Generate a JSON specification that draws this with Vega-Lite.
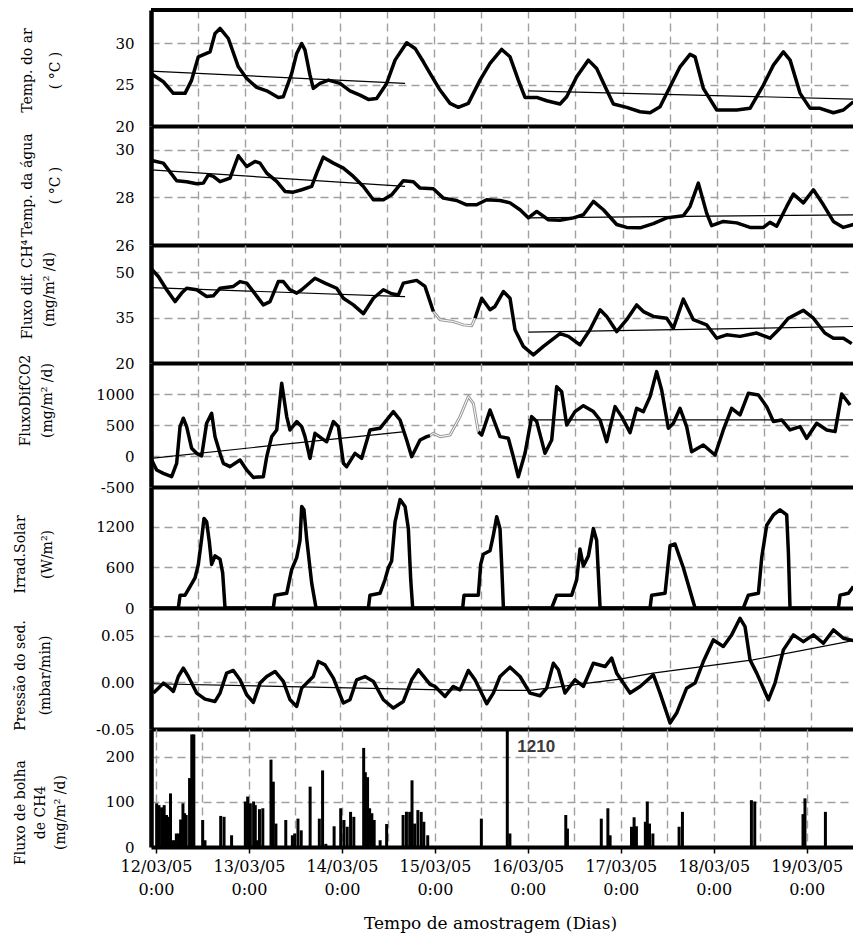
{
"$schema": "https://vega.github.io/schema/vega-lite/v6.json",
"background": "white",
"padding": {"left": 13, "top": 8, "right": 0, "bottom": 5},
"spacing": 0,
"bounds": "flush",
"config": {
 "view": {"stroke": null},
 "line": {"strokeJoin": "round"},
 "axis": {"domainColor": "black", "gridColor": "#a0a0a0", "gridDash": [8, 5], "gridWidth": 1.4, "labelFont": "DejaVu Serif", "labelFontSize": 15, "labelColor": "black", "titleFont": "DejaVu Serif", "titleFontSize": 14, "titleFontWeight": "normal", "titleColor": "black", "ticks": false, "labelOverlap": false, "labelFlush": false},
 "axisX": {"domainWidth": 4},
 "axisY": {"domainWidth": 4.5, "titleAngle": -90, "titleAlign": "center", "titleBaseline": "top", "labelPadding": 17, "grid": true}
},
"datasets": {
 "ar": [{"dia":0.007,"valor":26.27},{"dia":0.131,"valor":25.34},{"dia":0.237,"valor":23.94},{"dia":0.361,"valor":23.94},{"dia":0.431,"valor":25.54},{"dia":0.502,"valor":28.35},{"dia":0.626,"valor":28.95},{"dia":0.679,"valor":31.17},{"dia":0.732,"valor":31.77},{"dia":0.82,"valor":30.56},{"dia":0.926,"valor":27.14},{"dia":1.015,"valor":25.74},{"dia":1.121,"valor":24.66},{"dia":1.227,"valor":24.25},{"dia":1.35,"valor":23.45},{"dia":1.403,"valor":23.53},{"dia":1.492,"valor":26.35},{"dia":1.545,"valor":28.76},{"dia":1.598,"valor":29.96},{"dia":1.633,"valor":29.16},{"dia":1.686,"valor":26.14},{"dia":1.721,"valor":24.54},{"dia":1.792,"valor":25.14},{"dia":1.881,"valor":25.54},{"dia":2.004,"valor":25.14},{"dia":2.11,"valor":24.25},{"dia":2.216,"valor":23.73},{"dia":2.305,"valor":23.21},{"dia":2.393,"valor":23.33},{"dia":2.499,"valor":25.14},{"dia":2.588,"valor":27.95},{"dia":2.711,"valor":30.04},{"dia":2.8,"valor":29.36},{"dia":2.888,"valor":27.75},{"dia":2.959,"valor":26.35},{"dia":3.065,"valor":24.34},{"dia":3.171,"valor":22.73},{"dia":3.259,"valor":22.25},{"dia":3.365,"valor":22.73},{"dia":3.489,"valor":25.54},{"dia":3.595,"valor":27.55},{"dia":3.719,"valor":29.24},{"dia":3.807,"valor":28.35},{"dia":3.895,"valor":25.54},{"dia":3.966,"valor":23.45},{"dia":4.09,"valor":23.45},{"dia":4.196,"valor":23.05},{"dia":4.337,"valor":22.65},{"dia":4.408,"valor":23.53},{"dia":4.514,"valor":25.94},{"dia":4.638,"valor":27.95},{"dia":4.726,"valor":26.95},{"dia":4.832,"valor":24.34},{"dia":4.903,"valor":22.65},{"dia":5.044,"valor":22.25},{"dia":5.186,"valor":21.72},{"dia":5.292,"valor":21.6},{"dia":5.398,"valor":22.33},{"dia":5.504,"valor":24.73},{"dia":5.61,"valor":27.14},{"dia":5.716,"valor":28.64},{"dia":5.769,"valor":28.35},{"dia":5.857,"valor":24.54},{"dia":5.999,"valor":21.93},{"dia":6.211,"valor":21.93},{"dia":6.352,"valor":22.13},{"dia":6.494,"valor":24.94},{"dia":6.6,"valor":27.35},{"dia":6.706,"valor":28.95},{"dia":6.777,"valor":27.95},{"dia":6.883,"valor":23.94},{"dia":6.989,"valor":22.13},{"dia":7.095,"valor":22.13},{"dia":7.236,"valor":21.6},{"dia":7.342,"valor":21.93},{"dia":7.448,"valor":22.93}],
 "ar_tend": [{"dia":0,"valor":26.63,"seg":"a"},{"dia":2.694,"valor":25.14,"seg":"a"},{"dia":4.0,"valor":24.25,"seg":"b"},{"dia":7.448,"valor":23.25,"seg":"b"}],
 "agua": [{"dia":0.007,"valor":29.55},{"dia":0.131,"valor":29.44},{"dia":0.272,"valor":28.7},{"dia":0.378,"valor":28.66},{"dia":0.484,"valor":28.57},{"dia":0.555,"valor":28.6},{"dia":0.608,"valor":28.95},{"dia":0.661,"valor":28.88},{"dia":0.732,"valor":28.66},{"dia":0.838,"valor":28.81},{"dia":0.926,"valor":29.75},{"dia":1.015,"valor":29.3},{"dia":1.103,"valor":29.51},{"dia":1.156,"valor":29.44},{"dia":1.227,"valor":29.02},{"dia":1.333,"valor":28.67},{"dia":1.421,"valor":28.25},{"dia":1.509,"valor":28.22},{"dia":1.598,"valor":28.32},{"dia":1.704,"valor":28.46},{"dia":1.757,"valor":29.02},{"dia":1.827,"valor":29.69},{"dia":1.934,"valor":29.44},{"dia":2.04,"valor":29.23},{"dia":2.146,"valor":28.88},{"dia":2.252,"valor":28.46},{"dia":2.358,"valor":27.9},{"dia":2.464,"valor":27.9},{"dia":2.552,"valor":28.11},{"dia":2.676,"valor":28.7},{"dia":2.782,"valor":28.66},{"dia":2.853,"valor":28.39},{"dia":2.994,"valor":28.36},{"dia":3.1,"valor":27.97},{"dia":3.241,"valor":27.87},{"dia":3.347,"valor":27.69},{"dia":3.453,"valor":27.69},{"dia":3.56,"valor":27.9},{"dia":3.701,"valor":27.87},{"dia":3.807,"valor":27.77},{"dia":3.913,"valor":27.48},{"dia":4.001,"valor":27.14},{"dia":4.09,"valor":27.41},{"dia":4.214,"valor":27.06},{"dia":4.337,"valor":27.04},{"dia":4.479,"valor":27.14},{"dia":4.585,"valor":27.27},{"dia":4.691,"valor":27.83},{"dia":4.797,"valor":27.48},{"dia":4.938,"valor":26.86},{"dia":5.044,"valor":26.74},{"dia":5.186,"valor":26.72},{"dia":5.327,"valor":26.9},{"dia":5.468,"valor":27.14},{"dia":5.645,"valor":27.23},{"dia":5.716,"valor":27.62},{"dia":5.804,"valor":28.6},{"dia":5.892,"valor":27.34},{"dia":5.945,"valor":26.81},{"dia":6.069,"valor":26.99},{"dia":6.211,"valor":26.93},{"dia":6.352,"valor":26.74},{"dia":6.494,"valor":26.74},{"dia":6.564,"valor":26.95},{"dia":6.635,"valor":26.79},{"dia":6.741,"valor":27.62},{"dia":6.812,"valor":28.14},{"dia":6.918,"valor":27.77},{"dia":7.024,"valor":28.32},{"dia":7.13,"valor":27.69},{"dia":7.236,"valor":26.99},{"dia":7.342,"valor":26.74},{"dia":7.448,"valor":26.86}],
 "agua_tend": [{"dia":0,"valor":29.16,"seg":"a"},{"dia":2.694,"valor":28.46,"seg":"a"},{"dia":4.0,"valor":27.14,"seg":"b"},{"dia":7.448,"valor":27.27,"seg":"b"}],
 "ch4": [{"dia":0.007,"valor":51,"seg":"a"},{"dia":0.078,"valor":48.6,"seg":"a"},{"dia":0.166,"valor":44.2,"seg":"a"},{"dia":0.255,"valor":40.3,"seg":"a"},{"dia":0.325,"valor":43.1,"seg":"a"},{"dia":0.378,"valor":44.7,"seg":"a"},{"dia":0.484,"valor":44.2,"seg":"a"},{"dia":0.59,"valor":42,"seg":"a"},{"dia":0.661,"valor":42.2,"seg":"a"},{"dia":0.732,"valor":44.7,"seg":"a"},{"dia":0.873,"valor":45.3,"seg":"a"},{"dia":0.944,"valor":46.9,"seg":"a"},{"dia":1.015,"valor":46.4,"seg":"a"},{"dia":1.085,"valor":43.6,"seg":"a"},{"dia":1.191,"valor":39.2,"seg":"a"},{"dia":1.262,"valor":40.3,"seg":"a"},{"dia":1.35,"valor":46.9,"seg":"a"},{"dia":1.403,"valor":46.9,"seg":"a"},{"dia":1.474,"valor":44.2,"seg":"a"},{"dia":1.545,"valor":43.1,"seg":"a"},{"dia":1.598,"valor":44.2,"seg":"a"},{"dia":1.739,"valor":48,"seg":"a"},{"dia":1.845,"valor":46.4,"seg":"a"},{"dia":1.969,"valor":44.7,"seg":"a"},{"dia":2.04,"valor":41.4,"seg":"a"},{"dia":2.146,"valor":39.2,"seg":"a"},{"dia":2.252,"valor":36.3,"seg":"a"},{"dia":2.358,"valor":41.4,"seg":"a"},{"dia":2.464,"valor":44.2,"seg":"a"},{"dia":2.552,"valor":42.9,"seg":"a"},{"dia":2.623,"valor":42.5,"seg":"a"},{"dia":2.676,"valor":46.4,"seg":"a"},{"dia":2.817,"valor":47.3,"seg":"a"},{"dia":2.906,"valor":45.3,"seg":"a"},{"dia":2.924,"valor":43.6,"seg":"a"},{"dia":2.994,"valor":37,"seg":"a"},{"dia":3.436,"valor":34.8,"seg":"b"},{"dia":3.507,"valor":41.4,"seg":"b"},{"dia":3.595,"valor":37.6,"seg":"b"},{"dia":3.648,"valor":38.7,"seg":"b"},{"dia":3.737,"valor":43.6,"seg":"b"},{"dia":3.807,"valor":41.4,"seg":"b"},{"dia":3.86,"valor":31,"seg":"b"},{"dia":3.948,"valor":25.5,"seg":"b"},{"dia":4.055,"valor":22.7,"seg":"b"},{"dia":4.161,"valor":25.5,"seg":"b"},{"dia":4.337,"valor":29.7,"seg":"b"},{"dia":4.426,"valor":28.8,"seg":"b"},{"dia":4.549,"valor":26,"seg":"b"},{"dia":4.655,"valor":31,"seg":"b"},{"dia":4.762,"valor":37.6,"seg":"b"},{"dia":4.832,"valor":35.4,"seg":"b"},{"dia":4.938,"valor":30.4,"seg":"b"},{"dia":5.044,"valor":34.3,"seg":"b"},{"dia":5.15,"valor":39.2,"seg":"b"},{"dia":5.221,"valor":37,"seg":"b"},{"dia":5.327,"valor":35.4,"seg":"b"},{"dia":5.468,"valor":34.8,"seg":"b"},{"dia":5.539,"valor":31.5,"seg":"b"},{"dia":5.645,"valor":41.1,"seg":"b"},{"dia":5.751,"valor":34.3,"seg":"b"},{"dia":5.892,"valor":32.6,"seg":"b"},{"dia":5.999,"valor":28.2,"seg":"b"},{"dia":6.104,"valor":29.3,"seg":"b"},{"dia":6.246,"valor":28.8,"seg":"b"},{"dia":6.423,"valor":29.9,"seg":"b"},{"dia":6.564,"valor":28.2,"seg":"b"},{"dia":6.67,"valor":31.5,"seg":"b"},{"dia":6.759,"valor":34.8,"seg":"b"},{"dia":6.918,"valor":37.4,"seg":"b"},{"dia":7.024,"valor":34.8,"seg":"b"},{"dia":7.145,"valor":29.9,"seg":"b"},{"dia":7.236,"valor":28.2,"seg":"b"},{"dia":7.342,"valor":28.2,"seg":"b"},{"dia":7.431,"valor":26.4,"seg":"b"}],
 "ch4_falha": [{"dia":2.994,"valor":37},{"dia":3.065,"valor":34.3},{"dia":3.206,"valor":33.7},{"dia":3.312,"valor":32.6},{"dia":3.4,"valor":32.3},{"dia":3.436,"valor":34.8}],
 "ch4_tend": [{"dia":0,"valor":44.92,"seg":"a"},{"dia":2.694,"valor":41.95,"seg":"a"},{"dia":4.0,"valor":30.2,"seg":"b"},{"dia":7.448,"valor":32.06,"seg":"b"}],
 "co2": [{"dia":0.007,"valor":-65,"seg":"a"},{"dia":0.06,"valor":-226,"seg":"a"},{"dia":0.131,"valor":-280,"seg":"a"},{"dia":0.219,"valor":-334,"seg":"a"},{"dia":0.272,"valor":-118,"seg":"a"},{"dia":0.308,"valor":474,"seg":"a"},{"dia":0.343,"valor":609,"seg":"a"},{"dia":0.378,"valor":474,"seg":"a"},{"dia":0.431,"valor":124,"seg":"a"},{"dia":0.484,"valor":43,"seg":"a"},{"dia":0.537,"valor":0,"seg":"a"},{"dia":0.59,"valor":528,"seg":"a"},{"dia":0.643,"valor":690,"seg":"a"},{"dia":0.679,"valor":312,"seg":"a"},{"dia":0.732,"valor":43,"seg":"a"},{"dia":0.767,"valor":-118,"seg":"a"},{"dia":0.838,"valor":-172,"seg":"a"},{"dia":0.944,"valor":-65,"seg":"a"},{"dia":1.015,"valor":-226,"seg":"a"},{"dia":1.085,"valor":-345,"seg":"a"},{"dia":1.191,"valor":-334,"seg":"a"},{"dia":1.227,"valor":-11,"seg":"a"},{"dia":1.28,"valor":312,"seg":"a"},{"dia":1.333,"valor":420,"seg":"a"},{"dia":1.386,"valor":1175,"seg":"a"},{"dia":1.439,"valor":636,"seg":"a"},{"dia":1.474,"valor":420,"seg":"a"},{"dia":1.545,"valor":555,"seg":"a"},{"dia":1.598,"valor":474,"seg":"a"},{"dia":1.633,"valor":312,"seg":"a"},{"dia":1.686,"valor":-38,"seg":"a"},{"dia":1.739,"valor":366,"seg":"a"},{"dia":1.81,"valor":285,"seg":"a"},{"dia":1.863,"valor":231,"seg":"a"},{"dia":1.934,"valor":555,"seg":"a"},{"dia":1.987,"valor":474,"seg":"a"},{"dia":2.04,"valor":-118,"seg":"a"},{"dia":2.075,"valor":-172,"seg":"a"},{"dia":2.163,"valor":43,"seg":"a"},{"dia":2.234,"valor":-38,"seg":"a"},{"dia":2.322,"valor":420,"seg":"a"},{"dia":2.428,"valor":447,"seg":"a"},{"dia":2.57,"valor":716,"seg":"a"},{"dia":2.641,"valor":581,"seg":"a"},{"dia":2.711,"valor":258,"seg":"a"},{"dia":2.764,"valor":-11,"seg":"a"},{"dia":2.853,"valor":258,"seg":"a"},{"dia":2.924,"valor":312,"seg":"a"},{"dia":2.959,"valor":330,"seg":"a"},{"dia":3.471,"valor":393,"seg":"b"},{"dia":3.507,"valor":339,"seg":"b"},{"dia":3.595,"valor":742,"seg":"b"},{"dia":3.701,"valor":312,"seg":"b"},{"dia":3.789,"valor":285,"seg":"b"},{"dia":3.842,"valor":-11,"seg":"b"},{"dia":3.895,"valor":-334,"seg":"b"},{"dia":3.966,"valor":43,"seg":"b"},{"dia":4.037,"valor":635,"seg":"b"},{"dia":4.09,"valor":555,"seg":"b"},{"dia":4.178,"valor":43,"seg":"b"},{"dia":4.249,"valor":258,"seg":"b"},{"dia":4.302,"valor":1119,"seg":"b"},{"dia":4.355,"valor":1038,"seg":"b"},{"dia":4.408,"valor":500,"seg":"b"},{"dia":4.496,"valor":716,"seg":"b"},{"dia":4.585,"valor":812,"seg":"b"},{"dia":4.691,"valor":716,"seg":"b"},{"dia":4.762,"valor":581,"seg":"b"},{"dia":4.832,"valor":231,"seg":"b"},{"dia":4.921,"valor":796,"seg":"b"},{"dia":4.991,"valor":635,"seg":"b"},{"dia":5.08,"valor":377,"seg":"b"},{"dia":5.15,"valor":769,"seg":"b"},{"dia":5.221,"valor":716,"seg":"b"},{"dia":5.292,"valor":958,"seg":"b"},{"dia":5.362,"valor":1361,"seg":"b"},{"dia":5.415,"valor":1065,"seg":"b"},{"dia":5.486,"valor":447,"seg":"b"},{"dia":5.539,"valor":528,"seg":"b"},{"dia":5.61,"valor":769,"seg":"b"},{"dia":5.68,"valor":474,"seg":"b"},{"dia":5.733,"valor":70,"seg":"b"},{"dia":5.857,"valor":177,"seg":"b"},{"dia":5.981,"valor":16,"seg":"b"},{"dia":6.069,"valor":420,"seg":"b"},{"dia":6.157,"valor":769,"seg":"b"},{"dia":6.246,"valor":662,"seg":"b"},{"dia":6.334,"valor":1011,"seg":"b"},{"dia":6.441,"valor":985,"seg":"b"},{"dia":6.529,"valor":796,"seg":"b"},{"dia":6.6,"valor":555,"seg":"b"},{"dia":6.688,"valor":581,"seg":"b"},{"dia":6.776,"valor":420,"seg":"b"},{"dia":6.883,"valor":474,"seg":"b"},{"dia":6.953,"valor":285,"seg":"b"},{"dia":7.059,"valor":528,"seg":"b"},{"dia":7.166,"valor":420,"seg":"b"},{"dia":7.254,"valor":393,"seg":"b"},{"dia":7.324,"valor":1000,"seg":"b"},{"dia":7.413,"valor":823,"seg":"b"}],
 "co2_falha": [{"dia":2.959,"valor":330},{"dia":2.994,"valor":366},{"dia":3.065,"valor":312},{"dia":3.171,"valor":339},{"dia":3.277,"valor":635},{"dia":3.365,"valor":958},{"dia":3.418,"valor":850},{"dia":3.471,"valor":393}],
 "co2_tend": [{"dia":0,"valor":-37,"seg":"a"},{"dia":2.694,"valor":394,"seg":"a"},{"dia":4.0,"valor":583,"seg":"b"},{"dia":7.448,"valor":583,"seg":"b"}],
 "irrad": [{"dia":0,"valor":0},{"dia":0.29,"valor":0},{"dia":0.308,"valor":190},{"dia":0.361,"valor":190},{"dia":0.414,"valor":318},{"dia":0.467,"valor":444},{"dia":0.502,"valor":645},{"dia":0.537,"valor":1023},{"dia":0.562,"valor":1325},{"dia":0.59,"valor":1275},{"dia":0.619,"valor":973},{"dia":0.643,"valor":645},{"dia":0.679,"valor":771},{"dia":0.732,"valor":721},{"dia":0.76,"valor":519},{"dia":0.785,"valor":0},{"dia":1.297,"valor":0},{"dia":1.315,"valor":190},{"dia":1.439,"valor":217},{"dia":1.492,"valor":570},{"dia":1.545,"valor":746},{"dia":1.58,"valor":998},{"dia":1.598,"valor":1502},{"dia":1.622,"valor":1452},{"dia":1.651,"valor":1023},{"dia":1.704,"valor":368},{"dia":1.75,"valor":0},{"dia":2.305,"valor":0},{"dia":2.322,"valor":190},{"dia":2.428,"valor":217},{"dia":2.481,"valor":418},{"dia":2.517,"valor":595},{"dia":2.552,"valor":696},{"dia":2.588,"valor":1275},{"dia":2.641,"valor":1603},{"dia":2.694,"valor":1502},{"dia":2.729,"valor":1174},{"dia":2.754,"valor":418},{"dia":2.775,"valor":0},{"dia":3.305,"valor":0},{"dia":3.319,"valor":190},{"dia":3.471,"valor":190},{"dia":3.496,"valor":645},{"dia":3.524,"valor":796},{"dia":3.595,"valor":847},{"dia":3.63,"valor":1073},{"dia":3.666,"valor":1351},{"dia":3.701,"valor":1174},{"dia":3.719,"valor":620},{"dia":3.737,"valor":0},{"dia":4.249,"valor":0},{"dia":4.302,"valor":190},{"dia":4.461,"valor":190},{"dia":4.514,"valor":418},{"dia":4.549,"valor":872},{"dia":4.585,"valor":620},{"dia":4.638,"valor":771},{"dia":4.691,"valor":1174},{"dia":4.726,"valor":998},{"dia":4.762,"valor":0},{"dia":5.292,"valor":0},{"dia":5.309,"valor":190},{"dia":5.451,"valor":217},{"dia":5.504,"valor":922},{"dia":5.557,"valor":947},{"dia":5.645,"valor":595},{"dia":5.769,"valor":0},{"dia":6.281,"valor":0},{"dia":6.334,"valor":190},{"dia":6.441,"valor":217},{"dia":6.476,"valor":746},{"dia":6.529,"valor":1225},{"dia":6.6,"valor":1376},{"dia":6.67,"valor":1452},{"dia":6.741,"valor":1376},{"dia":6.759,"valor":821},{"dia":6.776,"valor":0},{"dia":7.289,"valor":0},{"dia":7.307,"valor":190},{"dia":7.395,"valor":217},{"dia":7.448,"valor":318}],
 "pressao": [{"dia":0.025,"valor":-0.0114},{"dia":0.078,"valor":-0.0061},{"dia":0.131,"valor":-0.0007},{"dia":0.201,"valor":-0.0061},{"dia":0.237,"valor":-0.0096},{"dia":0.29,"valor":0.0064},{"dia":0.343,"valor":0.0154},{"dia":0.396,"valor":0.0064},{"dia":0.484,"valor":-0.0114},{"dia":0.573,"valor":-0.0179},{"dia":0.679,"valor":-0.0204},{"dia":0.732,"valor":-0.0114},{"dia":0.802,"valor":0.01},{"dia":0.873,"valor":0.0129},{"dia":0.944,"valor":0.0029},{"dia":1.015,"valor":-0.0132},{"dia":1.085,"valor":-0.0214},{"dia":1.156,"valor":-0.0007},{"dia":1.227,"valor":0.0064},{"dia":1.315,"valor":0.0118},{"dia":1.403,"valor":0.0011},{"dia":1.474,"valor":-0.0186},{"dia":1.545,"valor":-0.0257},{"dia":1.598,"valor":-0.0061},{"dia":1.668,"valor":0.0011},{"dia":1.721,"valor":0.0064},{"dia":1.774,"valor":0.0225},{"dia":1.845,"valor":0.0189},{"dia":1.934,"valor":0.0046},{"dia":2.04,"valor":-0.0221},{"dia":2.11,"valor":-0.0186},{"dia":2.181,"valor":0.0029},{"dia":2.269,"valor":0.0064},{"dia":2.358,"valor":0.0011},{"dia":2.464,"valor":-0.0186},{"dia":2.57,"valor":-0.0275},{"dia":2.676,"valor":-0.0204},{"dia":2.764,"valor":0.0029},{"dia":2.835,"valor":0.0136},{"dia":2.906,"valor":0.0046},{"dia":2.959,"valor":-0.002},{"dia":3.012,"valor":-0.0043},{"dia":3.118,"valor":-0.015},{"dia":3.206,"valor":-0.0043},{"dia":3.277,"valor":-0.0079},{"dia":3.365,"valor":0.0129},{"dia":3.436,"valor":0.0029},{"dia":3.56,"valor":-0.0229},{"dia":3.63,"valor":-0.0114},{"dia":3.701,"valor":0.0064},{"dia":3.807,"valor":0.0164},{"dia":3.913,"valor":0.0064},{"dia":4.019,"valor":-0.0114},{"dia":4.125,"valor":-0.0143},{"dia":4.196,"valor":-0.0061},{"dia":4.267,"valor":0.0207},{"dia":4.32,"valor":0.0136},{"dia":4.39,"valor":-0.0114},{"dia":4.496,"valor":0.0029},{"dia":4.585,"valor":-0.0043},{"dia":4.691,"valor":0.0207},{"dia":4.815,"valor":0.0171},{"dia":4.885,"valor":0.0261},{"dia":4.938,"valor":0.01},{"dia":5.08,"valor":-0.0114},{"dia":5.186,"valor":-0.0043},{"dia":5.327,"valor":0.0082},{"dia":5.398,"valor":-0.0114},{"dia":5.504,"valor":-0.0436},{"dia":5.574,"valor":-0.0329},{"dia":5.68,"valor":-0.0061},{"dia":5.769,"valor":-0.0007},{"dia":5.857,"valor":0.0225},{"dia":5.963,"valor":0.0457},{"dia":6.069,"valor":0.0386},{"dia":6.157,"valor":0.0511},{"dia":6.246,"valor":0.0689},{"dia":6.299,"valor":0.06},{"dia":6.352,"valor":0.0243},{"dia":6.423,"valor":0.01},{"dia":6.547,"valor":-0.0186},{"dia":6.617,"valor":-0.0007},{"dia":6.706,"valor":0.035},{"dia":6.812,"valor":0.0511},{"dia":6.918,"valor":0.0439},{"dia":7.024,"valor":0.0511},{"dia":7.13,"valor":0.0421},{"dia":7.236,"valor":0.0564},{"dia":7.342,"valor":0.0475},{"dia":7.448,"valor":0.045}],
 "pressao_tend": [{"dia":0.025,"valor":-0.0014},{"dia":2.959,"valor":-0.0078},{"dia":4.019,"valor":-0.0086},{"dia":4.973,"valor":0.0036},{"dia":5.323,"valor":0.0101},{"dia":6.384,"valor":0.0243},{"dia":7.448,"valor":0.045}],
 "bolha": [{"dia":0.007,"valor":97},{"dia":0.032,"valor":93},{"dia":0.06,"valor":88},{"dia":0.088,"valor":93},{"dia":0.113,"valor":71},{"dia":0.131,"valor":67},{"dia":0.156,"valor":119},{"dia":0.177,"valor":15},{"dia":0.201,"valor":15},{"dia":0.219,"valor":30},{"dia":0.244,"valor":30},{"dia":0.265,"valor":61},{"dia":0.29,"valor":97},{"dia":0.308,"valor":75},{"dia":0.325,"valor":71},{"dia":0.361,"valor":153},{"dia":0.385,"valor":250},{"dia":0.407,"valor":250},{"dia":0.502,"valor":60},{"dia":0.527,"valor":15},{"dia":0.696,"valor":69},{"dia":0.732,"valor":67},{"dia":0.813,"valor":26},{"dia":0.961,"valor":101},{"dia":0.986,"valor":112},{"dia":1.015,"valor":97},{"dia":1.05,"valor":101},{"dia":1.068,"valor":93},{"dia":1.092,"valor":15},{"dia":1.113,"valor":84},{"dia":1.149,"valor":86},{"dia":1.237,"valor":194},{"dia":1.262,"valor":145},{"dia":1.29,"valor":52},{"dia":1.396,"valor":60},{"dia":1.467,"valor":26},{"dia":1.492,"valor":30},{"dia":1.527,"valor":63},{"dia":1.562,"valor":37},{"dia":1.658,"valor":134},{"dia":1.757,"valor":63},{"dia":1.792,"valor":170},{"dia":1.827,"valor":7},{"dia":1.916,"valor":46},{"dia":1.987,"valor":86},{"dia":2.022,"valor":60},{"dia":2.057,"valor":45},{"dia":2.093,"valor":78},{"dia":2.128,"valor":67},{"dia":2.234,"valor":220},{"dia":2.252,"valor":166},{"dia":2.276,"valor":155},{"dia":2.298,"valor":86},{"dia":2.322,"valor":75},{"dia":2.347,"valor":60},{"dia":2.411,"valor":15},{"dia":2.481,"valor":51},{"dia":2.658,"valor":71},{"dia":2.694,"valor":78},{"dia":2.729,"valor":78},{"dia":2.754,"valor":148},{"dia":2.782,"valor":52},{"dia":2.817,"valor":82},{"dia":2.853,"valor":78},{"dia":2.881,"valor":56},{"dia":2.923,"valor":26},{"dia":3.5,"valor":63},{"dia":3.779,"valor":1210},{"dia":3.807,"valor":30},{"dia":4.408,"valor":71},{"dia":4.426,"valor":41},{"dia":4.79,"valor":63},{"dia":4.861,"valor":86},{"dia":4.885,"valor":26},{"dia":5.115,"valor":45},{"dia":5.143,"valor":66},{"dia":5.168,"valor":46},{"dia":5.264,"valor":56},{"dia":5.285,"valor":101},{"dia":5.309,"valor":52},{"dia":5.345,"valor":30},{"dia":5.627,"valor":45},{"dia":5.663,"valor":78},{"dia":6.405,"valor":104},{"dia":6.441,"valor":101},{"dia":6.96,"valor":73},{"dia":6.981,"valor":108},{"dia":7.201,"valor":78}]
},
"vconcat": [
 {
  "width": 702, "height": 116,
  "encoding": {
   "x": {"field": "dia", "type": "quantitative", "scale": {"domain": [0, 7.444], "nice": false, "zero": false}, "axis": {"values": [0,0.5,1,1.5,2,2.5,3,3.5,4,4.5,5,5.5,6,6.5,7], "labels": false, "ticks": false, "title": null, "grid": true}},
   "y": {"field": "valor", "type": "quantitative", "scale": {"domain": [20, 34], "nice": false, "zero": false}, "axis": {"values": [20, 25, 30], "title": ["Temp. do ar", "( °C )"], "titleX": -131, "titleY": 60, "titleLineHeight": 28}}
  },
  "layer": [
   {"data": {"name": "ar_tend"}, "mark": {"type": "line", "color": "black", "strokeWidth": 1.2, "clip": true}, "encoding": {"detail": {"field": "seg", "type": "nominal"}}},
   {"data": {"name": "ar"}, "mark": {"type": "line", "color": "black", "strokeWidth": 3.5, "clip": true}, "encoding": {}},
   {"data": {"values": [{"dia": 0, "dia2": 7.444, "valor": 34}]}, "mark": {"type": "rule", "color": "black", "strokeWidth": 4}, "encoding": {"x2": {"field": "dia2"}}}
  ]
 },
 {
  "width": 702, "height": 119,
  "encoding": {
   "x": {"field": "dia", "type": "quantitative", "scale": {"domain": [0, 7.444], "nice": false, "zero": false}, "axis": {"values": [0,0.5,1,1.5,2,2.5,3,3.5,4,4.5,5,5.5,6,6.5,7], "labels": false, "ticks": false, "title": null, "grid": true}},
   "y": {"field": "valor", "type": "quantitative", "scale": {"domain": [26, 31], "nice": false, "zero": false}, "axis": {"values": [26, 28, 30], "title": ["Temp. da água", "( °C )"], "titleX": -131, "titleY": 59, "titleLineHeight": 28}}
  },
  "layer": [
   {"data": {"name": "agua_tend"}, "mark": {"type": "line", "color": "black", "strokeWidth": 1.2, "clip": true}, "encoding": {"detail": {"field": "seg", "type": "nominal"}}},
   {"data": {"name": "agua"}, "mark": {"type": "line", "color": "black", "strokeWidth": 3.5, "clip": true}, "encoding": {}}
  ]
 },
 {
  "width": 702, "height": 118,
  "encoding": {
   "x": {"field": "dia", "type": "quantitative", "scale": {"domain": [0, 7.444], "nice": false, "zero": false}, "axis": {"values": [0,0.5,1,1.5,2,2.5,3,3.5,4,4.5,5,5.5,6,6.5,7], "labels": false, "ticks": false, "title": null, "grid": true}},
   "y": {"field": "valor", "type": "quantitative", "scale": {"domain": [20, 59], "nice": false, "zero": false}, "axis": {"values": [20, 35, 50], "title": ["Fluxo dif. CH⁴", "(mg/m² /d)"], "titleX": -131, "titleY": 44, "titleLineHeight": 22}}
  },
  "layer": [
   {"data": {"name": "ch4_tend"}, "mark": {"type": "line", "color": "black", "strokeWidth": 1.2, "clip": true}, "encoding": {"detail": {"field": "seg", "type": "nominal"}}},
   {"data": {"name": "ch4_falha"}, "mark": {"type": "line", "color": "#9a9a9a", "strokeWidth": 3, "clip": true}, "encoding": {}},
   {"data": {"name": "ch4_falha"}, "mark": {"type": "line", "color": "white", "strokeWidth": 1, "clip": true}, "encoding": {}},
   {"data": {"name": "ch4"}, "mark": {"type": "line", "color": "black", "strokeWidth": 3.5, "clip": true}, "encoding": {"detail": {"field": "seg", "type": "nominal"}}}
  ]
 },
 {
  "width": 702, "height": 124,
  "encoding": {
   "x": {"field": "dia", "type": "quantitative", "scale": {"domain": [0, 7.444], "nice": false, "zero": false}, "axis": {"values": [0,0.5,1,1.5,2,2.5,3,3.5,4,4.5,5,5.5,6,6.5,7], "labels": false, "ticks": false, "title": null, "grid": true}},
   "y": {"field": "valor", "type": "quantitative", "scale": {"domain": [-500, 1500], "nice": false, "zero": false}, "axis": {"values": [-500, 0, 500, 1000], "labelExpr": "replace(format(datum.value, 'd'), '−', '-')", "title": ["FluxoDifCO2", "(mg/m² /d)"], "titleX": -133, "titleY": 37, "titleLineHeight": 22}}
  },
  "layer": [
   {"data": {"name": "co2_tend"}, "mark": {"type": "line", "color": "black", "strokeWidth": 1.2, "clip": true}, "encoding": {"detail": {"field": "seg", "type": "nominal"}}},
   {"data": {"name": "co2_falha"}, "mark": {"type": "line", "color": "#9a9a9a", "strokeWidth": 3, "clip": true}, "encoding": {}},
   {"data": {"name": "co2_falha"}, "mark": {"type": "line", "color": "white", "strokeWidth": 1, "clip": true}, "encoding": {}},
   {"data": {"name": "co2"}, "mark": {"type": "line", "color": "black", "strokeWidth": 3.5, "clip": true}, "encoding": {"detail": {"field": "seg", "type": "nominal"}}}
  ]
 },
 {
  "width": 702, "height": 121,
  "encoding": {
   "x": {"field": "dia", "type": "quantitative", "scale": {"domain": [0, 7.444], "nice": false, "zero": false}, "axis": {"values": [0,0.5,1,1.5,2,2.5,3,3.5,4,4.5,5,5.5,6,6.5,7], "labels": false, "ticks": false, "title": null, "grid": true}},
   "y": {"field": "valor", "type": "quantitative", "scale": {"domain": [0, 1790], "nice": false, "zero": false}, "axis": {"values": [0, 600, 1200], "labelExpr": "format(datum.value, 'd')", "title": ["Irrad.Solar", "(W/m²)"], "titleX": -138, "titleY": 67, "titleLineHeight": 27}}
  },
  "layer": [
   {"data": {"name": "irrad"}, "mark": {"type": "line", "color": "black", "strokeWidth": 3.5, "clip": true}, "encoding": {}}
  ]
 },
 {
  "width": 702, "height": 121,
  "encoding": {
   "x": {"field": "dia", "type": "quantitative", "scale": {"domain": [0, 7.444], "nice": false, "zero": false}, "axis": {"values": [0,0.5,1,1.5,2,2.5,3,3.5,4,4.5,5,5.5,6,6.5,7], "labels": false, "ticks": false, "title": null, "grid": true}},
   "y": {"field": "valor", "type": "quantitative", "scale": {"domain": [-0.05, 0.08], "nice": false, "zero": false}, "axis": {"values": [-0.05, 0, 0.05], "labelExpr": "replace(format(datum.value, '.2f'), '−', '-')", "title": ["Pressão do sed.", "(mbar/min)"], "titleX": -138, "titleY": 67, "titleLineHeight": 25}}
  },
  "layer": [
   {"data": {"name": "pressao_tend"}, "mark": {"type": "line", "color": "black", "strokeWidth": 1.2, "clip": true}, "encoding": {}},
   {"data": {"name": "pressao"}, "mark": {"type": "line", "color": "black", "strokeWidth": 3.5, "clip": true}, "encoding": {}}
  ]
 },
 {
  "width": 702, "height": 118,
  "encoding": {
   "x": {"field": "dia", "type": "quantitative", "scale": {"domain": [0, 7.444], "nice": false, "zero": false}, "axis": {"values": [0,0.5,1,1.5,2,2.5,3,3.5,4,4.5,5,5.5,6,6.5,7], "grid": true, "labels": true, "labelExpr": "datum.value % 1 === 0 ? [(12 + datum.value) + '/03/05', '0:00'] : ''", "labelFontSize": 16, "labelLineHeight": 23, "labelBaseline": "top", "labelPadding": 5, "ticks": true, "tickSize": 6, "tickWidth": 1.5, "tickColor": "black", "tickOpacity": {"condition": {"test": "datum.value % 1 === 0", "value": 1}, "value": 0}, "title": "Tempo de amostragem (Dias)", "titleFontSize": 17, "titlePadding": 18, "titleX": 339}},
   "y": {"field": "valor", "type": "quantitative", "scale": {"domain": [0, 262], "nice": false, "zero": false}, "axis": {"values": [0, 100, 200], "title": ["Fluxo de bolha", "de CH4", "(mg/m² /d)"], "titleX": -138, "titleY": 83, "titleLineHeight": 20}}
  },
  "layer": [
   {"data": {"name": "bolha"}, "mark": {"type": "bar", "color": "black", "size": 3, "clip": true}, "encoding": {}},
   {"data": {"name": "bolha"}, "transform": [{"filter": "datum.valor > 262"}], "mark": {"type": "text", "align": "left", "baseline": "middle", "dx": 10, "font": "Liberation Sans", "fontWeight": "bold", "fontSize": 17, "color": "#3a3a3a"}, "encoding": {"y": {"datum": 221}, "text": {"field": "valor", "type": "quantitative", "format": "d"}}}
  ]
 }
]
}
